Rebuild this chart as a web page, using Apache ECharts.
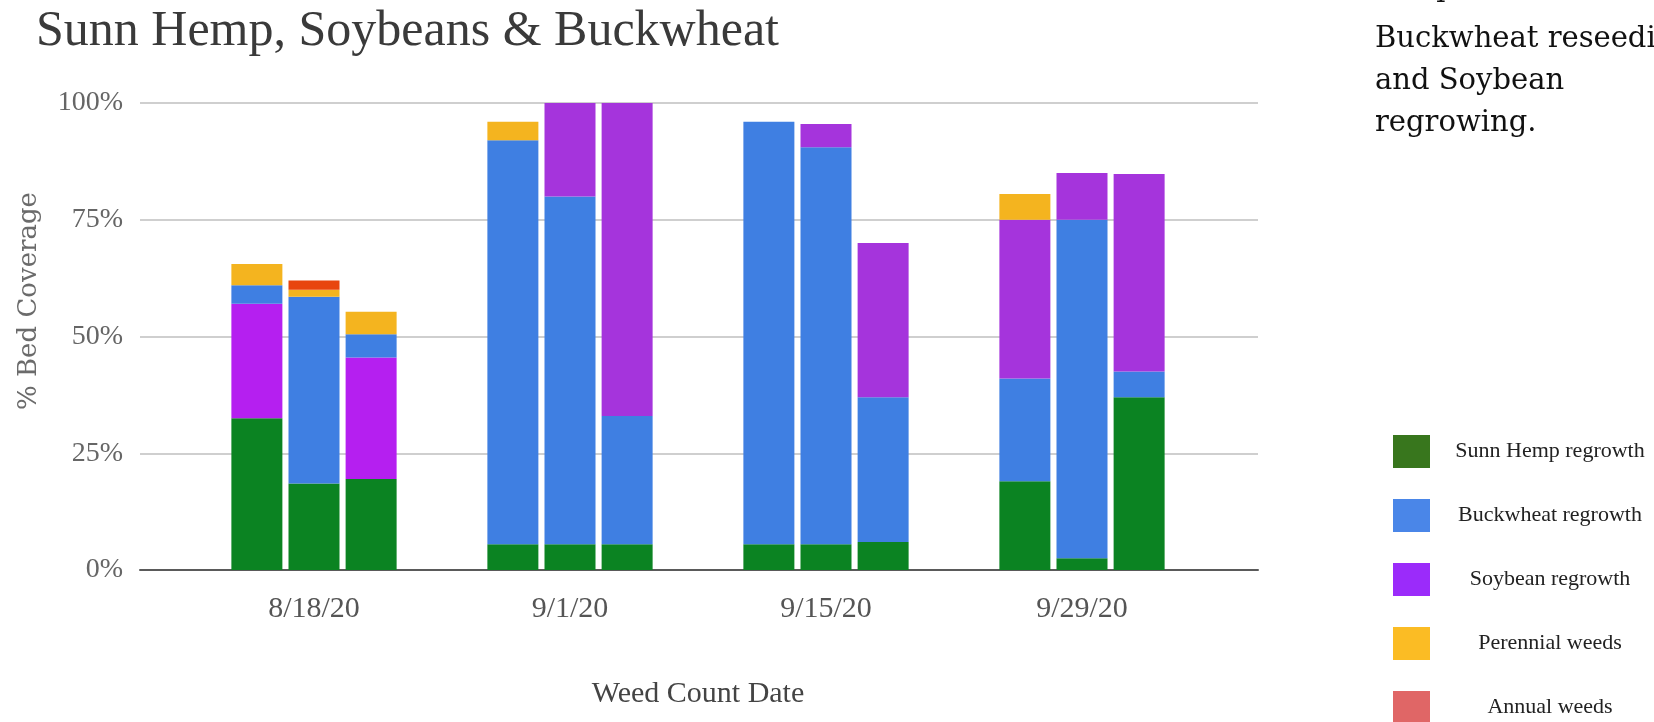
<!DOCTYPE html>
<html>
<head>
<meta charset="utf-8">
<script src="https://cdn.jsdelivr.net/npm/echarts@6/dist/echarts.min.js"></script>
<style>
  html, body { margin: 0; padding: 0; background: #fff; }
  #chart { width: 1654px; height: 722px; }
</style>
</head>
<body>
<div id="chart"></div>
<script>
// Weed count dates (category axis)
const dates = ['8/18/20', '9/1/20', '9/15/20', '9/29/20'];
// Y axis ticks (% of bed covered)
const yTicks = [0, 25, 50, 75, 100];

// Coverage per bed (three beds per date), values in %
const sunnHemp = [
  [32.5, 5.5, 5.5, 19],
  [18.5, 5.5, 5.5, 2.5],
  [19.5, 5.5, 6, 37]
];
const buckwheat = [
  [4, 86.5, 90.5, 22],
  [40, 74.5, 85, 72.5],
  [5, 27.5, 31, 5.5]
];
const soybean = [
  [24.5, 0, 0, 34],
  [0, 20, 5, 10],
  [26, 67, 33, 42.3]
];
const perennialWeeds = [
  [4.5, 4, 0, 5.5],
  [1.5, 0, 0, 0],
  [4.8, 0, 0, 0]
];
const annualWeeds = [
  [0, 0, 0, 0],
  [2, 0, 0, 0],
  [0, 0, 0, 0]
];
// Dates where soybean sits below buckwheat in the stack
const soyBelowBuckwheat = ['8/18/20'];

const NAMES = {
  hemp: 'Sunn Hemp regrowth',
  buck: 'Buckwheat regrowth',
  soy: 'Soybean regrowth',
  per: 'Perennial weeds',
  ann: 'Annual weeds'
};
const barColors = {
  hemp: '#0b8322',
  buck: '#3f7fe2',
  soyMagenta: '#b51ff0',
  soy: '#a534dc',
  per: '#f4b41f',
  ann: '#e8450f'
};
const legendColors = {
  hemp: '#38761d',
  buck: '#4a86e8',
  soy: '#9b2bfa',
  per: '#fbbc24',
  ann: '#e06666'
};

const SERIF = '"Liberation Serif", "Times New Roman", serif';
const BOOK = '"DejaVu Serif", serif';

const soyColor = p => (p.dataIndex === 0 ? barColors.soyMagenta : barColors.soy);

function bar(name, stack, data, color) {
  return {
    type: 'bar',
    name: name,
    stack: stack,
    xAxisIndex: 1,
    yAxisIndex: 1,
    barWidth: 51,
    barGap: '12%',
    data: data,
    itemStyle: { color: color },
    emphasis: { disabled: true }
  };
}

const series = [];
for (let b = 0; b < 3; b++) {
  const stack = 'bed' + (b + 1);
  const low = soybean[b].map((v, i) => (soyBelowBuckwheat.includes(dates[i]) ? v : null));
  const high = soybean[b].map((v, i) => (soyBelowBuckwheat.includes(dates[i]) ? null : v));
  series.push(bar(NAMES.hemp, stack, sunnHemp[b], barColors.hemp));
  series.push(bar(NAMES.soy, stack, low, soyColor));
  series.push(bar(NAMES.buck, stack, buckwheat[b], barColors.buck));
  series.push(bar(NAMES.soy, stack, high, soyColor));
  series.push(bar(NAMES.per, stack, perennialWeeds[b], barColors.per));
  series.push(bar(NAMES.ann, stack, annualWeeds[b], barColors.ann));
}

const option = {
  animation: false,
  backgroundColor: '#fff',
  title: {
    text: 'Sunn Hemp, Soybeans & Buckwheat',
    left: 31,
    top: 2,
    textStyle: { fontFamily: SERIF, fontSize: 50, fontWeight: 'normal', color: '#3a3a3a' }
  },
  legend: {
    orient: 'vertical',
    left: 1388,
    top: 430,
    height: 320,
    itemWidth: 37,
    itemHeight: 33,
    itemGap: 31,
    icon: 'rect',
    selectedMode: false,
    data: ['hemp', 'buck', 'soy', 'per', 'ann'].map(k => ({
      name: NAMES[k],
      itemStyle: { color: legendColors[k] }
    })),
    formatter: name => '{c|' + name + '}',
    textStyle: {
      rich: {
        c: { width: 230, align: 'center', fontFamily: SERIF, fontSize: 22, color: '#222' }
      }
    }
  },
  grid: [
    { left: 140, right: 396, top: 103, bottom: 152 },
    { left: 186, width: 1024, top: 103, bottom: 152 }
  ],
  xAxis: [
    {
      type: 'value', gridIndex: 0, min: 0, max: 1,
      axisLine: { show: true, lineStyle: { color: '#5a5a5a', width: 2 } },
      axisTick: { show: false }, axisLabel: { show: false }, splitLine: { show: false }
    },
    {
      type: 'category', gridIndex: 1, data: dates,
      axisLine: { show: false }, axisTick: { show: false },
      axisLabel: { margin: 24, fontFamily: SERIF, fontSize: 30, color: '#555' },
      name: 'Weed Count Date',
      nameLocation: 'middle',
      nameGap: 109,
      nameTextStyle: { fontFamily: SERIF, fontSize: 30, color: '#444' }
    }
  ],
  yAxis: [
    {
      type: 'value', gridIndex: 0, min: yTicks[0], max: yTicks[yTicks.length - 1], interval: 25,
      axisLine: { show: false }, axisTick: { show: false },
      axisLabel: { margin: 17, fontFamily: SERIF, fontSize: 28, color: '#666', formatter: '{value}%' },
      splitLine: { lineStyle: { color: '#cfcfcf', width: 2 } }
    },
    {
      type: 'value', gridIndex: 1, min: yTicks[0], max: yTicks[yTicks.length - 1], interval: 25,
      show: false, splitLine: { show: false }
    }
  ],
  graphic: [
    {
      type: 'text', x: 29, y: 301, rotation: Math.PI / 2,
      style: { text: '% Bed Coverage', fontFamily: BOOK, fontSize: 26, fill: '#6b6b6b', align: 'center', verticalAlign: 'middle' }
    },
    {
      type: 'text', x: 1375, y: -12,
      style: { text: 'composition shows', fontFamily: BOOK, fontSize: 29, fill: '#111', verticalAlign: 'middle' }
    },
    {
      type: 'text', x: 1375, y: 39,
      style: { text: 'Buckwheat reseeding', fontFamily: BOOK, fontSize: 29, fill: '#111', verticalAlign: 'middle' }
    },
    {
      type: 'text', x: 1375, y: 81,
      style: { text: 'and Soybean', fontFamily: BOOK, fontSize: 29, fill: '#111', verticalAlign: 'middle' }
    },
    {
      type: 'text', x: 1375, y: 123,
      style: { text: 'regrowing.', fontFamily: BOOK, fontSize: 29, fill: '#111', verticalAlign: 'middle' }
    }
  ],
  series: series
};

const chart = echarts.init(document.getElementById('chart'), null, { renderer: 'canvas' });
chart.setOption(option);
</script>
</body>
</html>
